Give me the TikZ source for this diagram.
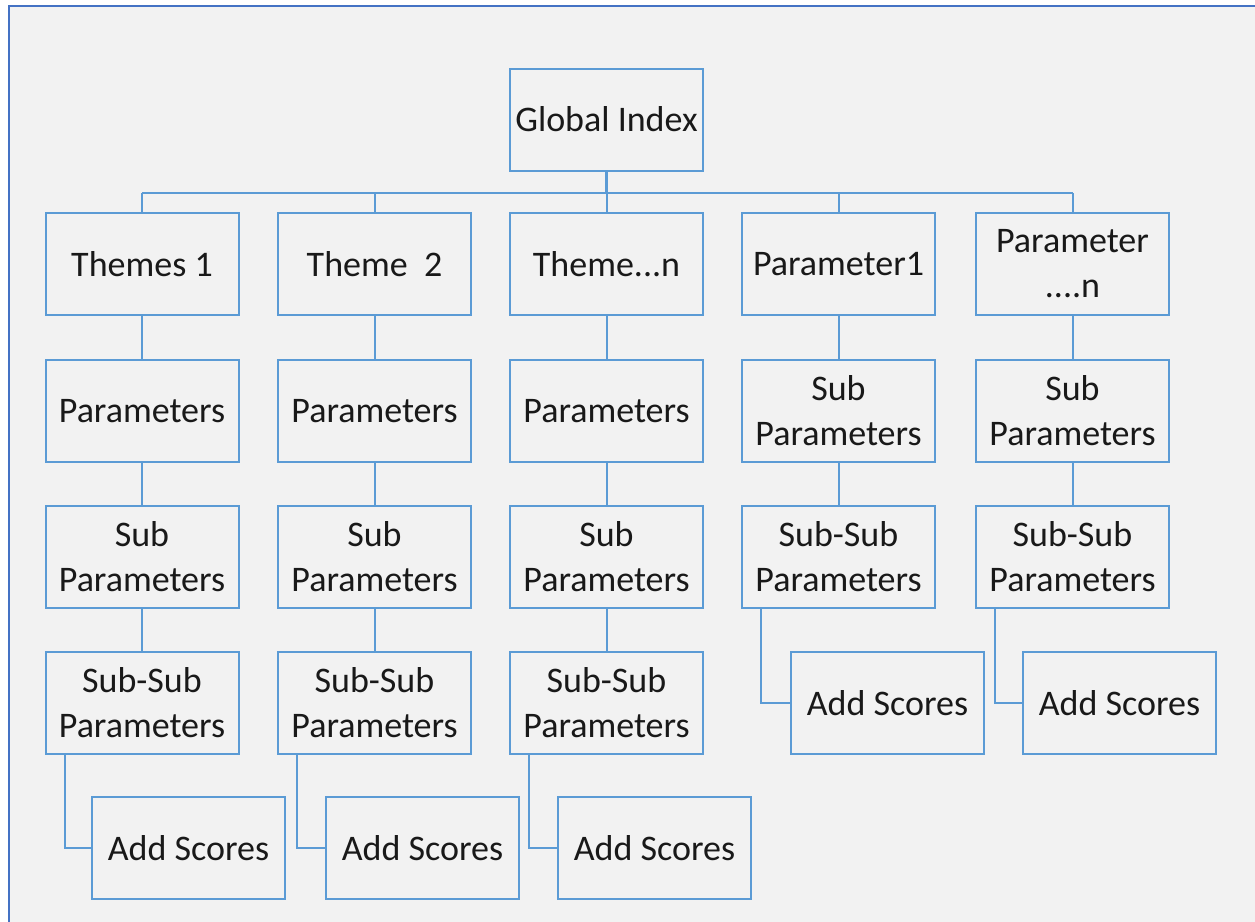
\documentclass[tikz,border=0pt]{standalone}
\usepackage{fontspec}
\setmainfont{Carlito}
\definecolor{boxblue}{HTML}{5B9BD5}
\definecolor{framblue}{HTML}{4472C4}
\definecolor{bggray}{HTML}{F2F2F2}
\begin{document}
\begin{tikzpicture}[x=0.5pt,y=-0.5pt,
  box/.style={draw=boxblue, line width=1pt, fill=bggray, minimum width=96.5pt, minimum height=51pt,
    align=center, inner sep=0pt, font=\fontsize{18}{22.5}\selectfont, text=black!90},
  link/.style={draw=boxblue, line width=1pt}]
\useasboundingbox (0,0) rectangle (1255,922);
\fill[white] (0,0) rectangle (1255,922);
\fill[bggray] (9,6) rectangle (1255,922);
\draw[framblue, line width=1pt] (9,922) -- (9,6) -- (1255,6);

\node[box] (g) at (606.5,119.5) {Global Index};

% row 1
\node[box] (t1) at (142,264) {Themes 1};
\node[box] (t2) at (374.5,264) {Theme\ \ 2};
\node[box] (t3) at (606.5,264) {Theme...n};
\node[box] (t4) at (838.5,264) {Parameter1};
\node[box] (t5) at (1072.5,264) {Parameter\\....n};

% row 2
\node[box] (p1) at (142,411) {Parameters};
\node[box] (p2) at (374.5,411) {Parameters};
\node[box] (p3) at (606.5,411) {Parameters};
\node[box] (p4) at (838.5,411) {Sub\\Parameters};
\node[box] (p5) at (1072.5,411) {Sub\\Parameters};

% row 3
\node[box] (s1) at (142,557) {Sub\\Parameters};
\node[box] (s2) at (374.5,557) {Sub\\Parameters};
\node[box] (s3) at (606.5,557) {Sub\\Parameters};
\node[box] (s4) at (838.5,557) {Sub-Sub\\Parameters};
\node[box] (s5) at (1072.5,557) {Sub-Sub\\Parameters};

% row 4
\node[box] (u1) at (142,703) {Sub-Sub\\Parameters};
\node[box] (u2) at (374.5,703) {Sub-Sub\\Parameters};
\node[box] (u3) at (606.5,703) {Sub-Sub\\Parameters};

% add scores
\node[box] (a1) at (188.5,848) {Add Scores};
\node[box] (a2) at (422.5,848) {Add Scores};
\node[box] (a3) at (654.5,848) {Add Scores};
\node[box] (a4) at (887.5,703) {Add Scores};
\node[box] (a5) at (1119.5,703) {Add Scores};

% bus
\coordinate (bus) at (606.5,193);
\draw[link, line width=1.3pt] (g.south) -- (bus);
\draw[link, line width=1.2pt] (t1.north |- bus) -- (t5.north |- bus);
\foreach \t in {t1,t2,t3,t4,t5} { \draw[link] (\t.north |- bus) -- (\t.north); }

\foreach \i in {1,...,5} {
  \draw[link] (t\i) -- (p\i);
  \draw[link] (p\i) -- (s\i);
}
\foreach \i in {1,2,3} {
  \draw[link] (s\i) -- (u\i);
  \draw[link] ([xshift=10pt]u\i.south west) |- (a\i.west);
}
\foreach \i in {4,5} {
  \draw[link] ([xshift=10pt]s\i.south west) |- (a\i.west);
}
\end{tikzpicture}
\end{document}
